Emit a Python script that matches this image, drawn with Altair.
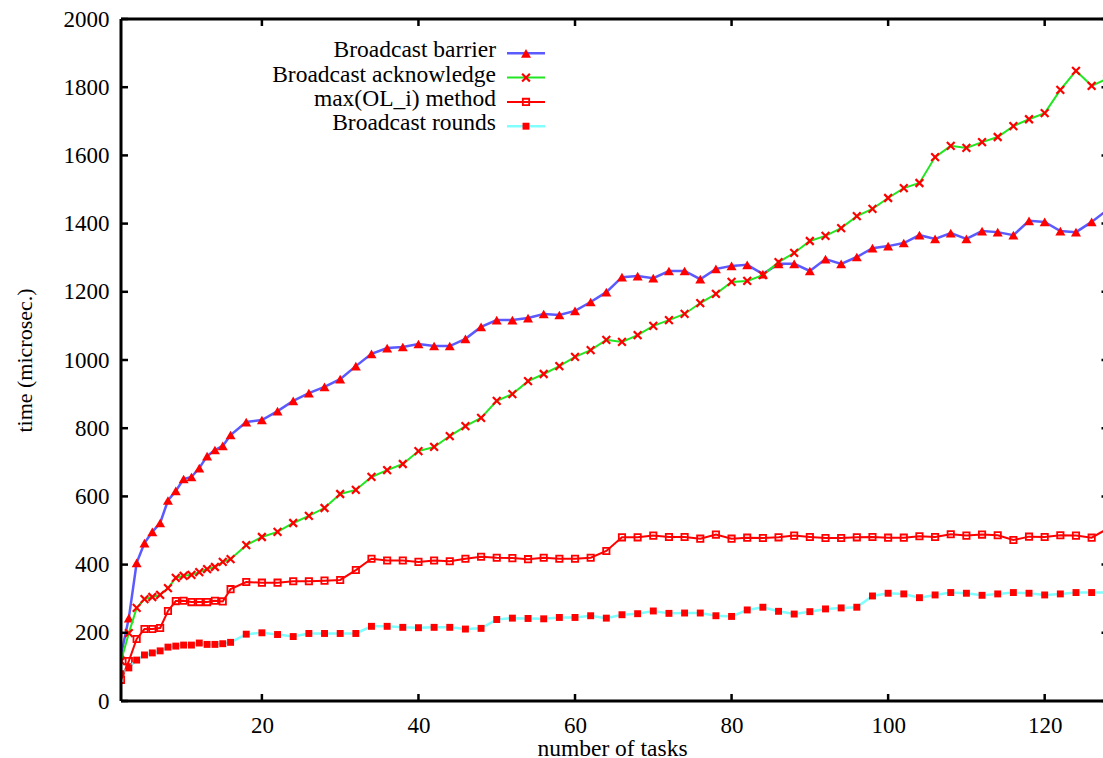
import altair as alt
import pandas as pd

# Number of tasks at which each method was timed
tasks = [2, 3, 4, 5, 6, 7, 8, 9, 10, 11, 12, 13, 14, 15, 16,
         18, 20, 22, 24, 26, 28, 30, 32, 34, 36,
         38, 40, 42, 44, 46, 48, 50, 52, 54, 56,
         58, 60, 62, 64, 66, 68, 70, 72, 74, 76,
         78, 80, 82, 84, 86, 88, 90, 92, 94, 96,
         98, 100, 102, 104, 106, 108, 110, 112, 114, 116,
         118, 120, 122, 124, 126, 128]

# Measured times (microseconds)
barrier = [135, 243, 405, 463, 496, 522, 588, 616, 651, 657, 683, 718, 736, 748, 780,
           818, 824, 850, 880, 903, 921, 944, 982, 1018, 1035,
           1038, 1047, 1041, 1041, 1062, 1097, 1117, 1117, 1123, 1135,
           1132, 1144, 1170, 1199, 1243, 1246, 1240, 1261, 1261, 1237,
           1267, 1276, 1279, 1252, 1282, 1282, 1261, 1296, 1282, 1302,
           1328, 1334, 1343, 1366, 1355, 1372, 1355, 1378, 1375, 1366,
           1408, 1405, 1378, 1375, 1405, 1440]

acknowledge = [117, 199, 273, 299, 305, 311, 331, 361, 367, 370, 378, 387, 393, 408, 416,
               457, 481, 496, 522, 543, 566, 607, 619, 657, 677,
               695, 733, 745, 777, 806, 830, 880, 900, 938, 959,
               982, 1009, 1029, 1059, 1053, 1073, 1100, 1117, 1135, 1167,
               1194, 1229, 1232, 1249, 1287, 1314, 1349, 1364, 1387, 1422,
               1443, 1475, 1504, 1519, 1595, 1628, 1622, 1639, 1654, 1686,
               1706, 1724, 1792, 1848, 1804, 1825]

max_ol = [62, 117, 182, 211, 211, 214, 264, 293, 294, 290, 290, 290, 294, 292, 328,
          349, 347, 347, 351, 351, 353, 355, 384, 417, 412,
          412, 408, 412, 410, 417, 423, 420, 419, 416, 420,
          417, 417, 420, 440, 480, 480, 485, 481, 481, 476,
          488, 476, 479, 478, 480, 485, 481, 478, 478, 480,
          481, 479, 479, 483, 481, 489, 485, 488, 486, 472,
          482, 481, 486, 485, 479, 505]

rounds = [80, 97, 120, 135, 141, 147, 158, 161, 164, 164, 170, 166, 166, 168, 172,
          196, 200, 195, 189, 198, 198, 198, 198, 219, 219,
          216, 215, 216, 216, 211, 213, 239, 243, 242, 241,
          245, 245, 250, 243, 253, 256, 264, 257, 258, 258,
          250, 248, 267, 275, 263, 255, 262, 270, 273, 275,
          308, 316, 314, 303, 311, 318, 316, 310, 314, 318,
          316, 311, 314, 318, 318, 318]

series_names = ["Broadcast barrier", "Broadcast acknowledge",
                "max(OL_i) method", "Broadcast rounds"]
series_values = [barrier, acknowledge, max_ol, rounds]

x_ticks = [20, 40, 60, 80, 100, 120]
y_ticks = [0, 200, 400, 600, 800, 1000, 1200, 1400, 1600, 1800, 2000]

FONT = "Liberation Serif"
W, H = 982, 682
x_scale = alt.Scale(domain=[2, 127.45], nice=False, zero=False)
y_scale = alt.Scale(domain=[0, 2000], nice=False, zero=False)

# line colour / width and marker style per series
styles = [
    dict(line="#5a5aff", width=2.5, shape="triangle-up", filled=True, size=100, sw=0.5),
    dict(line="#22e622", width=2.0, shape="M-1,-1L1,1M-1,1L1,-1", filled=False, size=60, sw=2.2),
    dict(line="#ff0000", width=2.0, shape="square", filled=False, size=40, sw=1.8),
    dict(line="#80ffff", width=2.5, shape="square", filled=True, size=48, sw=0.5),
]

x_axis = alt.Axis(values=x_ticks, format="d", title="number of tasks", labelFontSize=23,
                  labelPadding=31, labelBaseline="alphabetic", titleFontSize=23.5,
                  titleY=54, titleBaseline="alphabetic", ticks=False, domain=False,
                  grid=False, labelFont=FONT, titleFont=FONT, titleFontWeight="normal",
                  labelColor="black", titleColor="black")
y_axis = alt.Axis(values=y_ticks, format="d", title="time (microsec.)", labelFontSize=23,
                  labelPadding=12, titleFontSize=22, titleAngle=270, titleX=-90,
                  titleY=341, titleAlign="center", titleBaseline="alphabetic",
                  ticks=False, domain=False, grid=False, labelFont=FONT, titleFont=FONT,
                  titleFontWeight="normal", labelColor="black", titleColor="black")

X_ENC = alt.X("tasks:Q", scale=x_scale, axis=x_axis)
Y_ENC = alt.Y("time:Q", scale=y_scale, axis=y_axis)

layers = []
for name, vals, st in zip(series_names, series_values, styles):
    df = pd.DataFrame({"tasks": tasks, "time": vals, "series": name})
    line = alt.Chart(df).mark_line(color=st["line"], strokeWidth=st["width"],
                                   clip=True).encode(x=X_ENC, y=Y_ENC)
    pts = alt.Chart(df).mark_point(shape=st["shape"], filled=st["filled"], size=st["size"],
                                   color="#ff0000", strokeWidth=st["sw"], opacity=1,
                                   clip=True).encode(x=X_ENC, y=Y_ENC)
    layers += [line, pts]

# key in the upper left: label, line sample and marker
for i, (name, st) in enumerate(zip(series_names, styles)):
    ly = 34.3 + 24.3 * i
    kdf = pd.DataFrame({"label": [name]})
    layers.append(alt.Chart(kdf).mark_text(align="right", baseline="alphabetic", font=FONT,
                                           fontSize=23.5, color="black").encode(
        x=alt.value(375), y=alt.value(ly + 4), text="label:N"))
    layers.append(alt.Chart(kdf).mark_rule(color=st["line"], strokeWidth=st["width"]).encode(
        x=alt.value(386), x2=alt.value(424), y=alt.value(ly)))
    layers.append(alt.Chart(kdf).mark_point(shape=st["shape"], filled=st["filled"], size=st["size"],
                                            color="#ff0000", strokeWidth=st["sw"], opacity=1).encode(
        x=alt.value(405), y=alt.value(ly)))

# inward tick marks on all four sides
ydf = pd.DataFrame({"time": y_ticks})
xdf = pd.DataFrame({"tasks": x_ticks})
layers.append(alt.Chart(ydf).mark_rule(color="black", strokeWidth=2.5).encode(
    y=Y_ENC, x=alt.value(0), x2=alt.value(7)))
layers.append(alt.Chart(ydf).mark_rule(color="black", strokeWidth=2.5).encode(
    y=Y_ENC, x=alt.value(W - 1.5), x2=alt.value(W)))
layers.append(alt.Chart(xdf).mark_rule(color="black", strokeWidth=2.5).encode(
    x=X_ENC, y=alt.value(H), y2=alt.value(H - 7)))
layers.append(alt.Chart(xdf).mark_rule(color="black", strokeWidth=2.5).encode(
    x=X_ENC, y=alt.value(0), y2=alt.value(7)))

# frame: left, top and bottom borders
bdf = pd.DataFrame({"k": [0]})
layers.append(alt.Chart(bdf).mark_rule(color="black", strokeWidth=3).encode(
    x=alt.value(0), y=alt.value(0), y2=alt.value(H)))
layers.append(alt.Chart(bdf).mark_rule(color="black", strokeWidth=3).encode(
    x=alt.value(0), x2=alt.value(W), y=alt.value(0)))
layers.append(alt.Chart(bdf).mark_rule(color="black", strokeWidth=3).encode(
    x=alt.value(0), x2=alt.value(W), y=alt.value(H)))

chart = alt.layer(*layers).properties(
    width=W, height=H,
    padding={"left": 121, "top": 19, "right": 0, "bottom": 57},
    autosize=alt.AutoSizeParams(type="none"),
    background="white",
).configure_view(strokeWidth=0).configure_axis(
    labelFont=FONT, titleFont=FONT,
).configure_text(font=FONT)

chart.save("out.html", embed_options={"renderer": "svg", "actions": False})
